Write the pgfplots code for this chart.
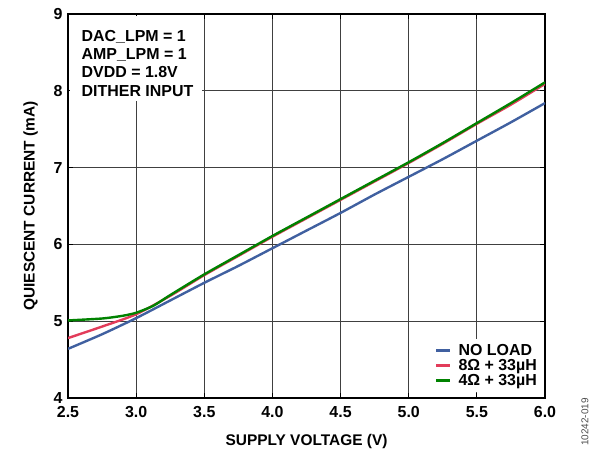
\documentclass[border=0pt]{standalone}
\usepackage{fontspec}
\setmainfont{Liberation Sans}
\usepackage{pgfplots}
\pgfplotsset{compat=1.18}

\definecolor{noload}{RGB}{64,96,160}
\definecolor{eightohm}{RGB}{226,60,90}
\definecolor{fourohm}{RGB}{0,130,0}

\begin{document}
\begin{tikzpicture}
\path[use as bounding box] (0,0) rectangle (599bp,451bp);
\begin{axis}[
    at={(68bp,53bp)},
    anchor=south west,
    scale only axis,
    width=477bp,
    height=384bp,
    xmin=2.5, xmax=6.0,
    ymin=4, ymax=9,
    xtick={2.5,3.0,...,6.0},
    ytick={4,5,...,9},
    xticklabel style={yshift=-5bp, /pgf/number format/.cd,fixed,fixed zerofill,precision=1},
    /pgf/number format/assume math mode=true,
    tick label style={font=\fontsize{16}{18}\selectfont\bfseries},
    yticklabel style={xshift=-2bp},
    tick align=inside,
    major tick length=5bp,
    tick style={black, line width=0.8pt},
    grid=major,
    major grid style={black!75, line width=0.8pt},
    axis line style={line width=2.2pt},
    xlabel={SUPPLY VOLTAGE (V)},
    ylabel={QUIESCENT CURRENT (mA)},
    label style={font=\fontsize{15.5}{17}\selectfont\bfseries},
    xlabel style={yshift=-10bp},
    ylabel style={yshift=9bp},
    legend style={at={(rel axis cs:1,0)}, anchor=south east, draw=none, fill=white,
        font=\fontsize{16}{17}\selectfont\bfseries, row sep=-1.5bp,
        inner sep=3bp, xshift=-3bp, yshift=6bp},
    legend cell align=left,
    legend image code/.code={\fill[#1, draw=none] (0bp,-1.3bp) rectangle (14bp,1.3bp);
        \path (19bp,0bp);},
    every axis plot/.append style={line width=2.4pt, smooth, tension=0.4},
]
\addplot[noload] coordinates {
(2.5,4.64) (2.75,4.83) (3.0,5.04) (3.25,5.27) (3.5,5.50) (3.75,5.72) (4.0,5.95)
(4.25,6.18) (4.5,6.41) (4.75,6.65) (5.0,6.88) (5.25,7.11) (5.5,7.35) (5.75,7.59) (6.0,7.84)};
\addplot[eightohm] coordinates {
(2.5,4.78) (2.75,4.93) (3.0,5.09) (3.25,5.33) (3.5,5.60) (3.75,5.85) (4.0,6.10)
(4.25,6.34) (4.5,6.58) (4.75,6.82) (5.0,7.06) (5.25,7.31) (5.5,7.57) (5.75,7.82) (6.0,8.09)};
\addplot[fourohm] coordinates {
(2.5,5.01) (2.75,5.035) (2.9,5.07) (3.0,5.11) (3.125,5.20) (3.25,5.34) (3.5,5.61) (3.75,5.86) (4.0,6.11)
(4.25,6.35) (4.5,6.59) (4.75,6.83) (5.0,7.07) (5.25,7.32) (5.5,7.58) (5.75,7.84) (6.0,8.11)};
\legend{NO LOAD, 8Ω + 33µH, 4Ω + 33µH}
\fill[white] (rel axis cs:0.004,0.995) rectangle (rel axis cs:0.281,0.773);
\node[anchor=north west, align=left, inner xsep=12bp, inner ysep=7bp,
      xshift=1.5bp, yshift=-9bp,
      font=\fontsize{16}{18.3}\selectfont\bfseries]
  at (rel axis cs:0,1) {DAC\_LPM = 1\\AMP\_LPM = 1\\DVDD = 1.8V\\DITHER INPUT};
\end{axis}
\node[rotate=90, font=\fontsize{10}{12}\selectfont, text=black!70] at (585bp,29bp) {10242-019};
\end{tikzpicture}
\end{document}
